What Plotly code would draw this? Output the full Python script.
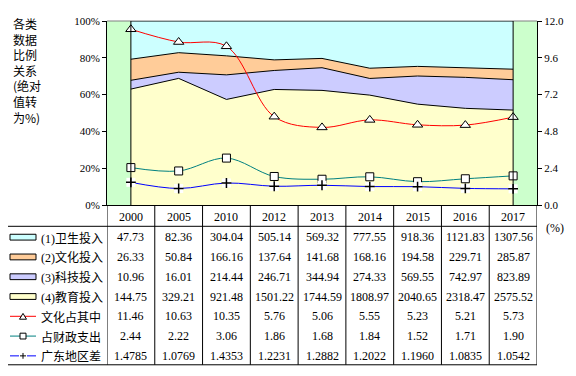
import plotly.graph_objects as go

years = ["2000", "2005", "2010", "2012", "2013", "2014", "2015", "2016", "2017"]
health = [47.73, 82.36, 304.04, 505.14, 569.32, 777.55, 918.36, 1121.83, 1307.56]
culture = [26.33, 50.84, 166.16, 137.64, 141.68, 168.16, 194.58, 229.71, 285.87]
science = [10.96, 16.01, 214.44, 246.71, 344.94, 274.33, 569.55, 742.97, 823.89]
education = [144.75, 329.21, 921.48, 1501.22, 1744.59, 1808.97, 2040.65, 2318.47, 2575.52]
culture_share = [11.46, 10.63, 10.35, 5.76, 5.06, 5.55, 5.23, 5.21, 5.73]
fiscal_share = [2.44, 2.22, 3.06, 1.86, 1.68, 1.84, 1.52, 1.71, 1.90]
gd_gap = [1.4785, 1.0769, 1.4353, 1.2231, 1.2882, 1.2022, 1.1960, 1.0835, 1.0542]
left_ticks = [0, 20, 40, 60, 80, 100]
right_ticks = [0.0, 2.4, 4.8, 7.2, 9.6, 12.0]
row_names = ["(1)卫生投入", "(2)文化投入", "(3)科技投入", "(4)教育投入", "文化占其中", "占财政支出", "广东地区差"]
title_text = "各类<br>数据<br>比例<br>关系<br>(绝对<br>值转<br>为%)"

PAGE_W, PAGE_H = 576, 376
OFF = 8  # default body margin of the html page
W, H = PAGE_W - OFF, PAGE_H - OFF
L, R, T, B = 107, 537, 15, 205  # plot area in page pixels
def X(px):
    return (px - L) / (R - L)
def Y(py):
    return (B - py) / (B - T)

SERIF = "Liberation Serif"
CJK = "Noto Sans CJK SC"

xs = list(range(len(years)))
fig = go.Figure()

area_specs = [(education, "#FFFFCC"), (science, "#CCCCFF"), (culture, "#FFCC99"), (health, "#CCFFFF")]
for vals, col in area_specs:
    fig.add_trace(go.Scatter(x=xs, y=vals, stackgroup="a", groupnorm="percent",
                             mode="lines", fillcolor=col,
                             line=dict(color="black", width=1), hoverinfo="skip"))

fig.add_trace(go.Scatter(x=xs, y=culture_share, yaxis="y2", mode="lines+markers",
                         line=dict(color="#FF0000", width=1, shape="spline"),
                         marker=dict(symbol="triangle-up", size=9, color="white",
                                     line=dict(color="black", width=1))))
fig.add_trace(go.Scatter(x=xs, y=fiscal_share, yaxis="y2", mode="lines+markers",
                         line=dict(color="#008080", width=1, shape="spline"),
                         marker=dict(symbol="square", size=8, color="white",
                                     line=dict(color="black", width=1))))
fig.add_trace(go.Scatter(x=xs, y=gd_gap, yaxis="y2", mode="lines",
                         line=dict(color="#0000FF", width=1, shape="spline")))
fig.add_trace(go.Scatter(x=xs, y=gd_gap, yaxis="y2", mode="markers",
                         marker=dict(symbol="square", size=9, color="white", line=dict(width=0))))
fig.add_trace(go.Scatter(x=xs, y=gd_gap, yaxis="y2", mode="markers",
                         marker=dict(symbol="cross-thin", size=7, color="black",
                                     line=dict(color="black", width=1.5))))

shapes = []
shapes.append(dict(type="line", xref="paper", yref="paper", x0=0, x1=1, y0=1, y1=1,
                   line=dict(color="#808080", width=1), layer="below"))
for xe in (xs[0], xs[-1]):
    shapes.append(dict(type="line", xref="x", yref="paper", x0=xe, x1=xe, y0=0, y1=1,
                       line=dict(color="black", width=1)))

top_hdr = B
row_top = 227
row_bot = 370
n_rows = len(row_names)
rh = (row_bot - row_top) / n_rows
tbl_left = 6
for i in range(len(years) + 1):
    xb = i - 0.5
    shapes.append(dict(type="line", xref="x", yref="paper", x0=xb, x1=xb,
                       y0=Y(top_hdr), y1=Y(row_bot), line=dict(color="black", width=1)))
shapes.append(dict(type="line", xref="paper", yref="paper", x0=X(tbl_left), x1=1,
                   y0=Y(row_top), y1=Y(row_top), line=dict(color="black", width=1)))
shapes.append(dict(type="line", xref="paper", yref="paper", x0=X(tbl_left), x1=1,
                   y0=Y(row_bot), y1=Y(row_bot), line=dict(color="black", width=1)))
shapes.append(dict(type="line", xref="paper", yref="paper", x0=X(tbl_left), x1=X(tbl_left),
                   y0=Y(row_top), y1=Y(row_bot), line=dict(color="black", width=1)))

annotations = []
for i, yr in enumerate(years):
    annotations.append(dict(x=i, xref="x", y=Y((top_hdr + row_top) / 2 + 1), yref="paper",
                            text=yr, showarrow=False, font=dict(family=SERIF, size=12, color="black"),
                            xanchor="center", yanchor="middle"))

series_rows = [(health, "{:.2f}"), (culture, "{:.2f}"), (science, "{:.2f}"), (education, "{:.2f}"),
               (culture_share, "{:.2f}"), (fiscal_share, "{:.2f}"), (gd_gap, "{:.4f}")]
key_fill = ["#CCFFFF", "#FFCC99", "#CCCCFF", "#FFFFCC"]
key_line = ["#FF0000", "#008080", "#0000FF"]
for r, (vals, fmt) in enumerate(series_rows):
    cy = row_top + rh * (r + 0.5) + 1
    for i, v in enumerate(vals):
        annotations.append(dict(x=i, xref="x", y=Y(cy), yref="paper", text=fmt.format(v),
                                showarrow=False, font=dict(family=SERIF, size=12, color="black"),
                                xanchor="center", yanchor="middle"))
    name = row_names[r]
    if name.startswith("("):
        k = name.index(")") + 1
        txt = ("<span style='font-family:Liberation Serif'>" + name[:k] + "</span>" + name[k:])
    else:
        txt = name
    annotations.append(dict(x=X(39), xref="paper", y=Y(cy), yref="paper", text=txt,
                            showarrow=False, font=dict(family=CJK, size=12, color="black"),
                            xanchor="left", yanchor="middle"))
    if r < 4:
        shapes.append(dict(type="rect", xref="paper", yref="paper", x0=X(10), x1=X(36),
                           y0=Y(cy - 3), y1=Y(cy + 3), fillcolor=key_fill[r],
                           line=dict(color="black", width=1)))
    else:
        c = key_line[r - 4]
        shapes.append(dict(type="line", xref="paper", yref="paper", x0=X(10), x1=X(36),
                           y0=Y(cy), y1=Y(cy), line=dict(color=c, width=1)))
        if r == 4:
            path = "M {} {} L {} {} L {} {} Z".format(X(19.5), Y(cy + 3), X(26.5), Y(cy + 3), X(23), Y(cy - 3))
            shapes.append(dict(type="path", xref="paper", yref="paper", path=path,
                               fillcolor="white", line=dict(color="black", width=1)))
        elif r == 5:
            shapes.append(dict(type="rect", xref="paper", yref="paper", x0=X(20), x1=X(26),
                               y0=Y(cy - 3), y1=Y(cy + 3), fillcolor="white",
                               line=dict(color="black", width=1)))
        else:
            shapes.append(dict(type="rect", xref="paper", yref="paper", x0=X(19), x1=X(27),
                               y0=Y(cy - 4), y1=Y(cy + 4), fillcolor="white",
                               line=dict(width=0)))
            shapes.append(dict(type="line", xref="paper", yref="paper", x0=X(20), x1=X(26),
                               y0=Y(cy), y1=Y(cy), line=dict(color="black", width=1)))
            shapes.append(dict(type="line", xref="paper", yref="paper", x0=X(23), x1=X(23),
                               y0=Y(cy - 3), y1=Y(cy + 3), line=dict(color="black", width=1)))

annotations.append(dict(x=X(11), xref="paper", y=Y(7), yref="paper", text=title_text,
                        showarrow=False, align="left", xanchor="left", yanchor="top",
                        font=dict(family=CJK, size=12, color="black")))
annotations.append(dict(x=X(555), xref="paper", y=Y(229), yref="paper", text="(%)",
                        showarrow=False, xanchor="center", yanchor="middle",
                        font=dict(family=SERIF, size=12, color="black")))

fig.update_layout(
    width=W, height=H, autosize=False,
    margin=dict(l=L - OFF, r=PAGE_W - R, t=T - OFF, b=PAGE_H - B, pad=0),
    paper_bgcolor="white", plot_bgcolor="#CCFFCC",
    showlegend=False,
    font=dict(family=SERIF, size=12, color="black"),
    xaxis=dict(range=[-0.5, len(years) - 0.5], showticklabels=False, showgrid=False,
               zeroline=False, showline=True, linecolor="black", linewidth=1, ticks=""),
    yaxis=dict(range=[0, 100], tickvals=left_ticks, ticktext=[f"{v}%" for v in left_ticks],
               showgrid=False, zeroline=False, showline=True, linecolor="black", linewidth=1,
               ticks="outside", ticklen=4, tickcolor="black",
               tickfont=dict(family=SERIF, size=11, color="black")),
    yaxis2=dict(range=[0, 12], overlaying="y", side="right", tickvals=right_ticks,
                ticktext=[f"{v:.1f}" for v in right_ticks], showgrid=False, zeroline=False,
                showline=True, linecolor="black", linewidth=1, ticks="outside", ticklen=4,
                tickcolor="black", tickfont=dict(family=SERIF, size=11, color="black")),
    shapes=shapes, annotations=annotations,
)

fig.write_html("out.html")
